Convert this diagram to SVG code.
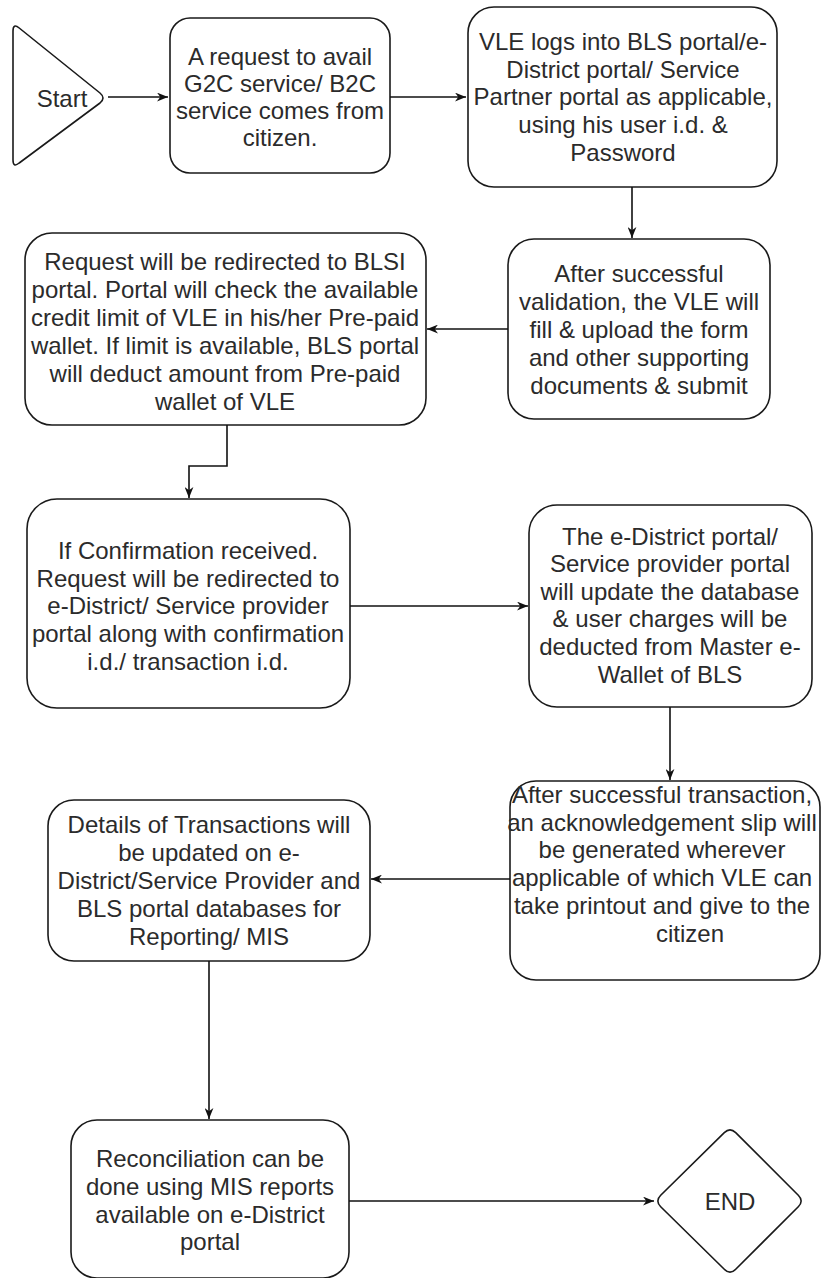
<svg xmlns="http://www.w3.org/2000/svg" width="821" height="1278" viewBox="0 0 821 1278">
<style>
.shape{fill:#ffffff;stroke:#1a1a1a;stroke-width:1.6}
.lbl{font-family:"Liberation Sans",Arial,sans-serif;font-size:24px;fill:#2b2b2b;text-anchor:middle}
.conn{fill:none;stroke:#111111;stroke-width:1.6}
</style>
<defs>
<marker id="arr" viewBox="0 0 10 8" refX="10" refY="4" markerWidth="11" markerHeight="9" orient="auto" markerUnits="userSpaceOnUse">
<path d="M0,0 L10,4 L0,8 L3,4 z" fill="#111111"/>
</marker>
</defs>
<rect width="821" height="1278" fill="#ffffff"/>

<g id="start">
<path class="shape" d="M13,31 Q13,23 19.2,28 L100,93 Q106,98 100,103 L19.2,163 Q13,168 13,160 Z"/>
<text class="lbl" x="62" y="107">Start</text>
</g>

<g id="request">
<rect class="shape" x="170" y="18" width="220" height="155" rx="20" ry="20"/>
<text class="lbl" x="280" y="65">A request to avail</text>
<text class="lbl" x="280" y="92">G2C service/ B2C</text>
<text class="lbl" x="280" y="119">service comes from</text>
<text class="lbl" x="280" y="146">citizen.</text>
</g>

<g id="login">
<rect class="shape" x="468" y="7" width="309" height="180" rx="26" ry="26"/>
<text class="lbl" x="623" y="50">VLE logs into BLS portal/e-</text>
<text class="lbl" x="623" y="78">District portal/ Service</text>
<text class="lbl" x="623" y="105">Partner portal as applicable,</text>
<text class="lbl" x="623" y="133">using his user i.d. &amp;</text>
<text class="lbl" x="623" y="161">Password</text>
</g>

<g id="validation">
<rect class="shape" x="508" y="239" width="262" height="180" rx="26" ry="26"/>
<text class="lbl" x="639" y="282">After successful</text>
<text class="lbl" x="639" y="310">validation, the VLE will</text>
<text class="lbl" x="639" y="338">fill &amp; upload the form</text>
<text class="lbl" x="639" y="366">and other supporting</text>
<text class="lbl" x="639" y="394">documents &amp; submit</text>
</g>

<g id="redirect">
<rect class="shape" x="25" y="233" width="401" height="192" rx="27" ry="27"/>
<text class="lbl" x="225" y="270">Request will be redirected to BLSI</text>
<text class="lbl" x="225" y="298">portal. Portal will check the available</text>
<text class="lbl" x="225" y="326">credit limit of VLE in his/her Pre-paid</text>
<text class="lbl" x="225" y="354">wallet. If limit is available, BLS portal</text>
<text class="lbl" x="225" y="382">will deduct amount from Pre-paid</text>
<text class="lbl" x="225" y="410">wallet of VLE</text>
</g>

<g id="confirmation">
<rect class="shape" x="27" y="499" width="323" height="209" rx="30" ry="30"/>
<text class="lbl" x="188" y="559">If Confirmation received.</text>
<text class="lbl" x="188" y="587">Request will be redirected to</text>
<text class="lbl" x="188" y="614">e-District/ Service provider</text>
<text class="lbl" x="188" y="642">portal along with confirmation</text>
<text class="lbl" x="188" y="670">i.d./ transaction i.d.</text>
</g>

<g id="update">
<rect class="shape" x="529" y="505" width="283" height="202" rx="28" ry="28"/>
<text class="lbl" x="670" y="545">The e-District portal/</text>
<text class="lbl" x="670" y="572">Service provider portal</text>
<text class="lbl" x="670" y="600">will update the database</text>
<text class="lbl" x="670" y="627">&amp; user charges will be</text>
<text class="lbl" x="670" y="655">deducted from Master e-</text>
<text class="lbl" x="670" y="683">Wallet of BLS</text>
</g>

<g id="acknowledgement">
<rect class="shape" x="510" y="781" width="310" height="199" rx="26" ry="26"/>
<text class="lbl" x="662" y="803">After successful transaction,</text>
<text class="lbl" x="662" y="831">an acknowledgement slip will</text>
<text class="lbl" x="662" y="858">be generated wherever</text>
<text class="lbl" x="662" y="886">applicable of which VLE can</text>
<text class="lbl" x="662" y="914">take printout and give to the</text>
<text class="lbl" x="690" y="942">citizen</text>
</g>

<g id="details">
<rect class="shape" x="48" y="800" width="322" height="161" rx="26" ry="26"/>
<text class="lbl" x="209" y="833">Details of Transactions will</text>
<text class="lbl" x="209" y="861">be updated on e-</text>
<text class="lbl" x="209" y="889">District/Service Provider and</text>
<text class="lbl" x="209" y="917">BLS portal databases for</text>
<text class="lbl" x="209" y="945">Reporting/ MIS</text>
</g>

<g id="reconciliation">
<rect class="shape" x="71" y="1120" width="278" height="158" rx="26" ry="26"/>
<text class="lbl" x="210" y="1167">Reconciliation can be</text>
<text class="lbl" x="210" y="1195">done using MIS reports</text>
<text class="lbl" x="210" y="1223">available on e-District</text>
<text class="lbl" x="210" y="1250">portal</text>
</g>

<g id="end">
<path class="shape" d="M735.7,1132.6 L798.3,1195.3 Q804,1201 798.3,1206.7 L735.7,1269.3 Q730,1275 724.3,1269.3 L660.7,1206.7 Q655,1201 660.7,1195.3 L724.3,1132.6 Q730,1127 735.7,1132.6 Z"/>
<text class="lbl" x="730" y="1210">END</text>
</g>

<g id="connectors">
<path class="conn" d="M108,97 H168" marker-end="url(#arr)"/>
<path class="conn" d="M390,97 H466" marker-end="url(#arr)"/>
<path class="conn" d="M632,187 V238" marker-end="url(#arr)"/>
<path class="conn" d="M508,329 H427" marker-end="url(#arr)"/>
<path class="conn" d="M227,425 V466 H189 V498" marker-end="url(#arr)"/>
<path class="conn" d="M350,606 H528" marker-end="url(#arr)"/>
<path class="conn" d="M670,707 V780" marker-end="url(#arr)"/>
<path class="conn" d="M510,879 H371" marker-end="url(#arr)"/>
<path class="conn" d="M209,961 V1119" marker-end="url(#arr)"/>
<path class="conn" d="M349,1201 H654" marker-end="url(#arr)"/>
</g>
</svg>
